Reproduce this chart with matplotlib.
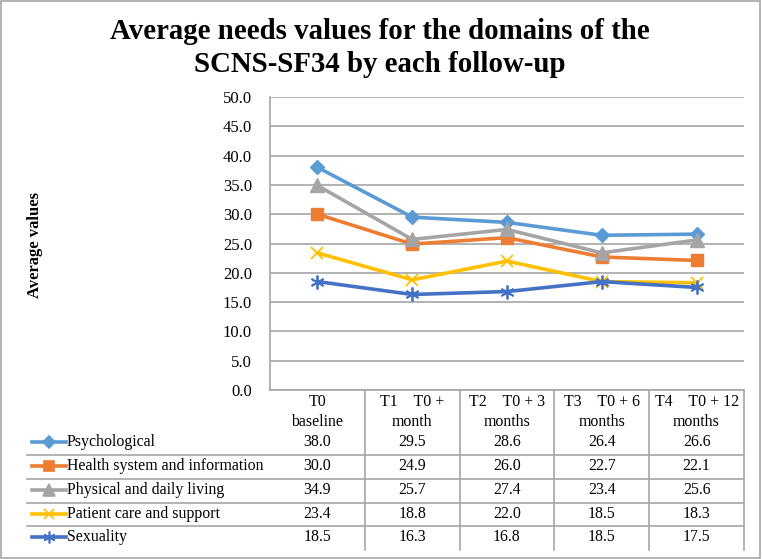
import matplotlib.pyplot as plt
from matplotlib.transforms import blended_transform_factory
from matplotlib.patches import Rectangle
from matplotlib.lines import Line2D

plt.rcParams['font.family'] = ['Liberation Serif', 'DejaVu Serif']

# data
categories = ["T0\nbaseline", "T1    T0 +\nmonth", "T2    T0 + 3\nmonths",
              "T3    T0 + 6\nmonths", "T4    T0 + 12\nmonths"]
psychological = [38.0, 29.5, 28.6, 26.4, 26.6]
health_system = [30.0, 24.9, 26.0, 22.7, 22.1]
physical_daily = [34.9, 25.7, 27.4, 23.4, 25.6]
patient_care = [23.4, 18.8, 22.0, 18.5, 18.3]
sexuality = [18.5, 16.3, 16.8, 18.5, 17.5]

series = [
    ("Psychological", psychological, "#5B9BD5", "D", 7.5),
    ("Health system and information", health_system, "#ED7D31", "s", 8.5),
    ("Physical and daily living", physical_daily, "#A5A5A5", "^", 9.5),
    ("Patient care and support", patient_care, "#FFC000", "x", 9),
    ("Sexuality", sexuality, "#4472C4", (6, 2, 0), 10),
]

W, H = 762, 559
fig = plt.figure(figsize=(W / 100, H / 100), dpi=100)
fig.patches.append(Rectangle((0.001, 0.001), 0.997, 0.997, transform=fig.transFigure,
                             fill=False, edgecolor="#A6A6A6", linewidth=1.2))

left, right, top, bottom = 270, 744, 97, 390
ax = fig.add_axes([left / W, 1 - bottom / H, (right - left) / W, (bottom - top) / H])

x = list(range(len(categories)))
for name, vals, color, marker, ms in series:
    ax.plot(x, vals, color=color, linewidth=2.6, marker=marker, markersize=ms,
            markeredgewidth=1.3 if marker in ("x", (6, 2, 0)) else 1, zorder=3)

ax.set_xlim(-0.5, 4.5)
ax.set_ylim(0, 50)
ax.set_yticks(range(0, 51, 5))
ax.set_yticklabels([f"{v:.1f}" for v in range(0, 51, 5)], fontsize=12)
ax.set_xticks([])
ax.tick_params(axis="y", length=0, pad=13)
ax.grid(axis="y", color="#A6A6A6", linewidth=1.2)
ax.set_axisbelow(True)
for s in ("top", "right"):
    ax.spines[s].set_visible(False)
ax.spines["left"].set_color("#A6A6A6")
ax.spines["bottom"].set_color("#A6A6A6")
ax.spines["left"].set_linewidth(1.2)
ax.spines["bottom"].set_linewidth(1.2)

fig.text(380 / W, 1 - 48 / H, "Average needs values for the domains of the\nSCNS-SF34 by each follow-up",
         ha="center", va="center", fontsize=20.8, fontweight="bold", linespacing=1.25)
fig.text(35 / W, 1 - 245 / H, "Average values", rotation=90, ha="center", va="center",
         fontsize=12, fontweight="bold")

# data table under the axis
tr = blended_transform_factory(ax.transData, fig.transFigure)
def fy(py):
    return 1 - py / H

for i, lab in enumerate(categories):
    ax.text(i, fy(412), lab, transform=tr, ha="center", va="center",
            fontsize=11.4, linespacing=1.35, clip_on=False)

row_y = [442, 466, 490, 514, 537]
for (name, vals, color, marker, ms), py in zip(series, row_y):
    fig.lines.append(Line2D([32 / W, 66 / W], [fy(py), fy(py)], transform=fig.transFigure,
                            color=color, linewidth=2.6))
    fig.lines.append(Line2D([49 / W], [fy(py)], transform=fig.transFigure, color=color,
                            marker=marker, markersize=ms * 0.85, markeredgewidth=1.2))
    fig.text(67 / W, fy(py), name, ha="left", va="center", fontsize=11.4)
    for i, v in enumerate(vals):
        ax.text(i, fy(py), f"{v:.1f}", transform=tr, ha="center", va="center",
                fontsize=11.4, clip_on=False)

for py in [455, 479, 503, 526]:
    fig.lines.append(Line2D([27 / W, right / W], [fy(py), fy(py)], transform=fig.transFigure,
                            color="#A6A6A6", linewidth=1.2))
for b in [0.5, 1.5, 2.5, 3.5, 4.5]:
    ax.plot([b, b], [fy(bottom), fy(550)], transform=tr, color="#A6A6A6",
            linewidth=1.2, clip_on=False)

fig.savefig("out.png", dpi=100)
